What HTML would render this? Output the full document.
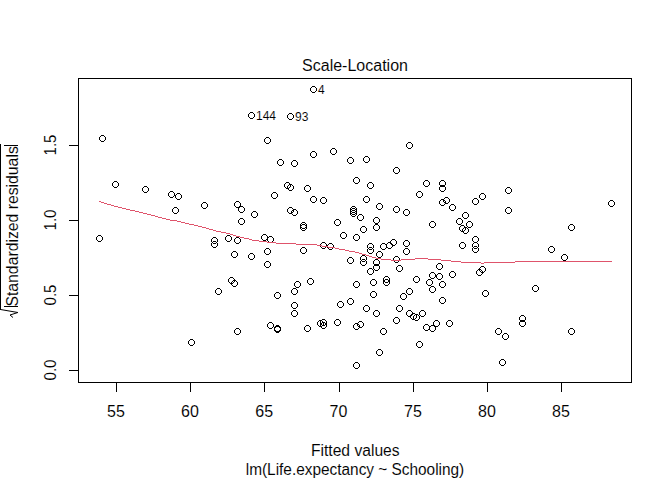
<!DOCTYPE html>
<html><head><meta charset="utf-8"><style>
html,body{margin:0;padding:0;background:#fff;}
svg{display:block;}
text{font-family:"Liberation Sans",sans-serif;fill:#000;stroke:#fff;stroke-width:0.08px;}
</style></head><body>
<svg width="672" height="480" viewBox="0 0 672 480">
<rect width="672" height="480" fill="#fff"/>
<g fill="none" stroke="#000" stroke-width="1" shape-rendering="crispEdges">
<rect x="78.5" y="78.5" width="553" height="304"/>
<path d="M116.5 382.5V392 M190.5 382.5V392 M264.5 382.5V392 M339.5 382.5V392 M413.5 382.5V392 M487.5 382.5V392 M561.5 382.5V392"/>
<path d="M78.5 370.5H69 M78.5 295.5H69 M78.5 220.5H69 M78.5 145.5H69"/>
<path d="M0.5 144V309.5"/>
<path d="M4 306.5H18 M4 145.5H18"/>
</g>
<polyline fill="none" stroke="#000" stroke-width="1" points="0.5,309.5 17.9,312.5 10,315 13,317.5"/>
<g font-size="16" text-anchor="middle">
<text id="x55" x="116" y="417">55</text><text id="x60" x="190" y="417">60</text><text id="x65" x="264.2" y="417">65</text><text id="x70" x="338.5" y="417">70</text><text id="x75" x="413" y="417">75</text><text id="x80" x="487" y="417">80</text><text id="x85" x="561" y="417">85</text>
<text id="title" x="355" y="71">Scale-Location</text>
<text id="xl" x="355.3" y="456" textLength="88.7" lengthAdjust="spacingAndGlyphs">Fitted values</text>
<text id="sub" x="355" y="475" textLength="218.5" lengthAdjust="spacingAndGlyphs">lm(Life.expectancy ~ Schooling)</text>
<text id="y0" transform="translate(56,370) rotate(-90)" textLength="20.8" lengthAdjust="spacingAndGlyphs">0.0</text><text id="y1" transform="translate(56,295) rotate(-90)" textLength="20.8" lengthAdjust="spacingAndGlyphs">0.5</text><text id="y2" transform="translate(56,220) rotate(-90)" textLength="20.8" lengthAdjust="spacingAndGlyphs">1.0</text><text id="y3" transform="translate(56,145) rotate(-90)" textLength="20.8" lengthAdjust="spacingAndGlyphs">1.5</text>
<text id="yl" transform="translate(18,226.4) rotate(-90)" textLength="160.3" lengthAdjust="spacingAndGlyphs">Standardized residuals</text>
</g>
<defs><path id="c" d="M-1.5-3.5h3v1h-3zM-2.5-2.5h1v1h-1zM1.5-2.5h1v1h-1zM-3.5-1.5h1v3h-1zM2.5-1.5h1v3h-1zM-2.5 1.5h1v1h-1zM1.5 1.5h1v1h-1zM-1.5 2.5h3v1h-3z"/></defs>
<g fill="#000" shape-rendering="crispEdges"><use href="#c" x="102.5" y="138.5"/><use href="#c" x="313.5" y="89.5"/><use href="#c" x="251.5" y="115.5"/><use href="#c" x="290.5" y="116.5"/><use href="#c" x="267.5" y="140.5"/><use href="#c" x="280.5" y="162.5"/><use href="#c" x="294.5" y="163.5"/><use href="#c" x="313.5" y="154.5"/><use href="#c" x="333.5" y="151.5"/><use href="#c" x="350.5" y="160.5"/><use href="#c" x="409.5" y="145.5"/><use href="#c" x="366.5" y="159.5"/><use href="#c" x="396.5" y="170.5"/><use href="#c" x="115.5" y="184.5"/><use href="#c" x="145.5" y="189.5"/><use href="#c" x="171.5" y="194.5"/><use href="#c" x="178.5" y="196.5"/><use href="#c" x="175.5" y="210.5"/><use href="#c" x="204.5" y="205.5"/><use href="#c" x="99.5" y="238.5"/><use href="#c" x="214.5" y="240.5"/><use href="#c" x="214.5" y="244.5"/><use href="#c" x="237.5" y="204.5"/><use href="#c" x="241.5" y="209.5"/><use href="#c" x="254.5" y="214.5"/><use href="#c" x="241.5" y="221.5"/><use href="#c" x="274.5" y="195.5"/><use href="#c" x="287.5" y="185.5"/><use href="#c" x="290.5" y="187.5"/><use href="#c" x="307.5" y="188.5"/><use href="#c" x="313.5" y="199.5"/><use href="#c" x="323.5" y="200.5"/><use href="#c" x="290.5" y="210.5"/><use href="#c" x="294.5" y="212.5"/><use href="#c" x="337.5" y="222.5"/><use href="#c" x="353.5" y="209.5"/><use href="#c" x="353.5" y="211.5"/><use href="#c" x="353.5" y="213.5"/><use href="#c" x="303.5" y="225.5"/><use href="#c" x="303.5" y="227.5"/><use href="#c" x="228.5" y="238.5"/><use href="#c" x="237.5" y="240.5"/><use href="#c" x="264.5" y="237.5"/><use href="#c" x="270.5" y="239.5"/><use href="#c" x="267.5" y="251.5"/><use href="#c" x="234.5" y="254.5"/><use href="#c" x="251.5" y="256.5"/><use href="#c" x="267.5" y="264.5"/><use href="#c" x="343.5" y="235.5"/><use href="#c" x="356.5" y="237.5"/><use href="#c" x="303.5" y="250.5"/><use href="#c" x="323.5" y="245.5"/><use href="#c" x="330.5" y="246.5"/><use href="#c" x="350.5" y="260.5"/><use href="#c" x="356.5" y="180.5"/><use href="#c" x="370.5" y="185.5"/><use href="#c" x="366.5" y="199.5"/><use href="#c" x="379.5" y="206.5"/><use href="#c" x="396.5" y="209.5"/><use href="#c" x="406.5" y="212.5"/><use href="#c" x="419.5" y="194.5"/><use href="#c" x="426.5" y="183.5"/><use href="#c" x="360.5" y="217.5"/><use href="#c" x="376.5" y="220.5"/><use href="#c" x="376.5" y="227.5"/><use href="#c" x="363.5" y="229.5"/><use href="#c" x="442.5" y="183.5"/><use href="#c" x="442.5" y="188.5"/><use href="#c" x="442.5" y="202.5"/><use href="#c" x="446.5" y="200.5"/><use href="#c" x="452.5" y="207.5"/><use href="#c" x="475.5" y="201.5"/><use href="#c" x="482.5" y="196.5"/><use href="#c" x="465.5" y="215.5"/><use href="#c" x="459.5" y="221.5"/><use href="#c" x="469.5" y="224.5"/><use href="#c" x="432.5" y="224.5"/><use href="#c" x="462.5" y="228.5"/><use href="#c" x="465.5" y="230.5"/><use href="#c" x="370.5" y="246.5"/><use href="#c" x="370.5" y="250.5"/><use href="#c" x="383.5" y="246.5"/><use href="#c" x="389.5" y="245.5"/><use href="#c" x="393.5" y="242.5"/><use href="#c" x="406.5" y="243.5"/><use href="#c" x="406.5" y="251.5"/><use href="#c" x="379.5" y="254.5"/><use href="#c" x="363.5" y="258.5"/><use href="#c" x="363.5" y="262.5"/><use href="#c" x="376.5" y="262.5"/><use href="#c" x="376.5" y="267.5"/><use href="#c" x="370.5" y="271.5"/><use href="#c" x="396.5" y="259.5"/><use href="#c" x="399.5" y="268.5"/><use href="#c" x="475.5" y="239.5"/><use href="#c" x="475.5" y="245.5"/><use href="#c" x="475.5" y="249.5"/><use href="#c" x="462.5" y="245.5"/><use href="#c" x="439.5" y="266.5"/><use href="#c" x="432.5" y="275.5"/><use href="#c" x="439.5" y="276.5"/><use href="#c" x="452.5" y="274.5"/><use href="#c" x="482.5" y="269.5"/><use href="#c" x="479.5" y="272.5"/><use href="#c" x="508.5" y="190.5"/><use href="#c" x="508.5" y="210.5"/><use href="#c" x="611.5" y="203.5"/><use href="#c" x="571.5" y="227.5"/><use href="#c" x="551.5" y="249.5"/><use href="#c" x="564.5" y="257.5"/><use href="#c" x="191.5" y="342.5"/><use href="#c" x="218.5" y="291.5"/><use href="#c" x="231.5" y="280.5"/><use href="#c" x="234.5" y="283.5"/><use href="#c" x="237.5" y="331.5"/><use href="#c" x="277.5" y="295.5"/><use href="#c" x="297.5" y="284.5"/><use href="#c" x="310.5" y="281.5"/><use href="#c" x="294.5" y="291.5"/><use href="#c" x="294.5" y="305.5"/><use href="#c" x="294.5" y="313.5"/><use href="#c" x="270.5" y="325.5"/><use href="#c" x="277.5" y="328.5"/><use href="#c" x="277.5" y="329.5"/><use href="#c" x="307.5" y="328.5"/><use href="#c" x="320.5" y="323.5"/><use href="#c" x="323.5" y="322.5"/><use href="#c" x="323.5" y="325.5"/><use href="#c" x="337.5" y="322.5"/><use href="#c" x="340.5" y="304.5"/><use href="#c" x="350.5" y="301.5"/><use href="#c" x="356.5" y="284.5"/><use href="#c" x="356.5" y="326.5"/><use href="#c" x="356.5" y="365.5"/><use href="#c" x="360.5" y="324.5"/><use href="#c" x="373.5" y="282.5"/><use href="#c" x="386.5" y="279.5"/><use href="#c" x="386.5" y="282.5"/><use href="#c" x="416.5" y="279.5"/><use href="#c" x="429.5" y="282.5"/><use href="#c" x="373.5" y="294.5"/><use href="#c" x="409.5" y="291.5"/><use href="#c" x="403.5" y="296.5"/><use href="#c" x="366.5" y="308.5"/><use href="#c" x="376.5" y="313.5"/><use href="#c" x="399.5" y="308.5"/><use href="#c" x="396.5" y="320.5"/><use href="#c" x="409.5" y="313.5"/><use href="#c" x="413.5" y="316.5"/><use href="#c" x="416.5" y="317.5"/><use href="#c" x="422.5" y="313.5"/><use href="#c" x="442.5" y="284.5"/><use href="#c" x="432.5" y="289.5"/><use href="#c" x="442.5" y="300.5"/><use href="#c" x="485.5" y="293.5"/><use href="#c" x="436.5" y="323.5"/><use href="#c" x="449.5" y="323.5"/><use href="#c" x="432.5" y="328.5"/><use href="#c" x="426.5" y="327.5"/><use href="#c" x="383.5" y="331.5"/><use href="#c" x="379.5" y="352.5"/><use href="#c" x="419.5" y="344.5"/><use href="#c" x="535.5" y="288.5"/><use href="#c" x="522.5" y="318.5"/><use href="#c" x="522.5" y="323.5"/><use href="#c" x="498.5" y="331.5"/><use href="#c" x="505.5" y="336.5"/><use href="#c" x="571.5" y="331.5"/><use href="#c" x="502.5" y="362.5"/></g>
<path fill="#DF536B" shape-rendering="crispEdges" d="M99 201h2v1h-2zM101 202h3v1h-3zM104 203h3v1h-3zM107 204h4v1h-4zM111 205h3v1h-3zM114 206h4v1h-4zM118 207h4v1h-4zM122 208h4v1h-4zM126 209h4v1h-4zM130 210h5v1h-5zM135 211h4v1h-4zM139 212h4v1h-4zM143 213h4v1h-4zM147 214h4v1h-4zM151 215h4v1h-4zM155 216h3v1h-3zM158 217h4v1h-4zM162 218h4v1h-4zM166 219h4v1h-4zM170 220h7v1h-7zM177 221h4v1h-4zM181 222h4v1h-4zM185 223h4v1h-4zM189 224h5v1h-5zM194 225h4v1h-4zM198 226h4v1h-4zM202 227h4v1h-4zM206 228h3v1h-3zM209 229h4v1h-4zM213 230h3v1h-3zM216 231h5v1h-5zM221 232h5v1h-5zM226 233h4v1h-4zM230 234h3v1h-3zM233 235h3v1h-3zM236 236h4v1h-4zM240 237h4v1h-4zM244 238h5v1h-5zM249 239h3v1h-3zM252 240h7v1h-7zM259 241h8v1h-8zM267 242h9v1h-9zM276 243h20v1h-20zM296 244h21v1h-21zM317 245h5v1h-5zM322 246h6v1h-6zM328 247h7v1h-7zM335 248h4v1h-4zM339 249h6v1h-6zM345 250h4v1h-4zM349 251h6v1h-6zM355 252h4v1h-4zM359 253h3v1h-3zM362 254h4v1h-4zM366 255h3v1h-3zM369 256h3v1h-3zM372 257h4v1h-4zM376 258h5v1h-5zM381 259h10v1h-10zM391 260h10v1h-10zM401 259h14v1h-14zM415 258h13v1h-13zM428 259h13v1h-13zM441 260h10v1h-10zM451 261h10v1h-10zM461 262h20v1h-20zM481 263h3v1h-3zM484 262h31v1h-31zM515 261h97v1h-97z"/>
<g font-size="12"><text x="318" y="94">4</text><text x="256" y="120">144</text><text x="295" y="121">93</text></g>
</svg></body></html>
